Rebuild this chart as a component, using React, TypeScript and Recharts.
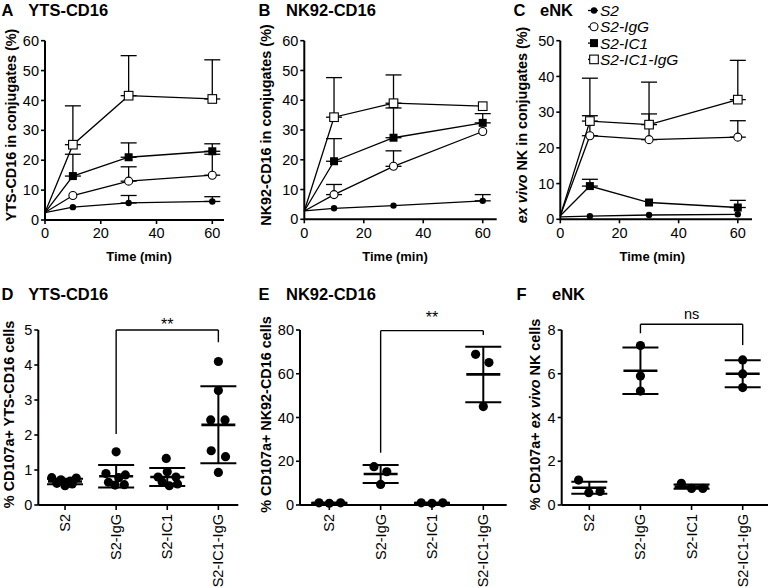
import React from 'react';
import {
  ComposedChart, ScatterChart, Line, Scatter, XAxis, YAxis, ErrorBar, Label, Legend,
  ReferenceLine, ReferenceDot,
} from 'recharts';

const FONT = '"Liberation Sans", Arial, Helvetica, sans-serif';

// ---------- shared ----------
const times = [0, 10, 30, 60];
const seriesNames = ['S2', 'S2-IgG', 'S2-IC1', 'S2-IC1-IgG'];
const markerKinds = ['fc', 'oc', 'fs', 'os'];
const categories = ['S2', 'S2-IgG', 'S2-IC1', 'S2-IC1-IgG'];

// ---------- Panel A: YTS-CD16 conjugates ----------
const aS2 = [2.5, 4.3, 5.7, 6.2];
const aIgG = [2.5, 8.2, 13, 15];
const aIC1 = [2.5, 14.7, 21, 23];
const aIC1IgG = [2.5, 25.2, 41.6, 40.5];
const aS2Err = [null, null, 2.5, 1.6];
const aIgGErr = [null, null, 4.8, 7];
const aIC1Err = [null, 7.3, 4.8, 2.5];
const aIC1IgGErr = [null, 13, 13.4, 13.1];

// ---------- Panel B: NK92-CD16 conjugates ----------
const bS2 = [2.8, 3.7, 4.6, 6.2];
const bIgG = [2.8, 8.3, 17.8, 29.5];
const bIC1 = [2.8, 19.5, 27.4, 32.4];
const bIC1IgG = [2.8, 34.3, 39, 38];
const bS2Err = [null, null, null, 2.1];
const bIgGErr = [null, 3.4, 5.2, null];
const bIC1Err = [null, 7.6, 10, 3.1];
const bIC1IgGErr = [null, 13.3, 9.5, null];

// ---------- Panel C: eNK conjugates ----------
const cS2 = [0.7, 0.9, 1.2, 1.4];
const cIgG = [1.0, 23.4, 22.3, 23];
const cIC1 = [1.0, 9.3, 4.7, 3.3];
const cIC1IgG = [1.0, 27.5, 26.5, 33.5];
const cS2Err = [null, null, null, null];
const cIgGErr = [null, 5.6, 7.2, 4.6];
const cIC1Err = [null, 1.9, null, 2.0];
const cIC1IgGErr = [null, 12, 11.9, 11];

// ---------- Panel D: CD107a+ YTS-CD16 ----------
const dVals = [
  [0.78, 0.77, 0.72, 0.68, 0.62, 0.55, 0.6],
  [1.52, 0.9, 0.86, 0.78, 0.65, 0.57, 0.58],
  [1.33, 0.95, 0.8, 0.8, 0.66, 0.55, 0.6],
  [4.1, 3.27, 2.43, 2.43, 1.55, 1.38, 0.93],
];
const dJitter = [
  [-0.26, 0.22, -0.08, 0.1, -0.16, 0.0, 0.14],
  [0, -0.2, 0.18, 0.05, -0.15, -0.02, 0.16],
  [-0.02, 0, -0.18, 0.17, -0.1, 0.04, 0.2],
  [0, 0, -0.15, 0.13, -0.14, 0.14, 0],
];
const dMean = [0.67, 0.82, 0.8, 2.29];
const dSd = [0.08, 0.32, 0.26, 1.1];

// ---------- Panel E: CD107a+ NK92-CD16 ----------
const eVals = [
  [1.0, 0.8, 1.0],
  [17.5, 15.2, 9.4],
  [1.0, 0.8, 1.0],
  [68.9, 65.1, 45.0],
];
const eJitter = [
  [-0.2, 0, 0.22],
  [-0.13, 0.12, 0],
  [-0.21, 0, 0.21],
  [-0.15, 0.11, 0],
];
const eMean = [0.9, 14.2, 0.9, 59.7];
const eSd = [0.1, 4.1, 0.1, 12.7];

// ---------- Panel F: CD107a+ ex vivo NK ----------
const fVals = [
  [1.14, 0.56, 0.62],
  [7.29, 5.9, 5.21],
  [0.99, 0.76, 0.76],
  [6.63, 5.99, 5.37],
];
const fJitter = [
  [-0.21, -0.01, 0.21],
  [0, 0, 0],
  [-0.2, 0, 0.22],
  [0, 0, 0],
];
const fMean = [0.79, 6.14, 0.84, 6.0];
const fSd = [0.27, 1.06, 0.1, 0.62];

// ---------- helpers ----------
type Num = number | null;

function buildTimeData(vals: number[][], errs: Num[][]) {
  return times.map((t, i) => {
    const row: any = { t };
    vals.forEach((v, s) => {
      row[`v${s}`] = v[i];
      const e = errs[s][i];
      row[`e${s}`] = e == null ? null : [0, e];
    });
    return row;
  });
}

function buildPoints(vals: number[][], jit: number[][]) {
  const out: any[] = [];
  vals.forEach((arr, c) => arr.forEach((v, i) => out.push({ x: c + 1 + jit[c][i], y: v })));
  return out;
}

function buildMeans(means: number[], sds: number[]) {
  return means.map((m, c) => ({ x: c + 1, y: m, sd: sds[c] }));
}

function Marker({ kind, cx, cy }: { kind: string; cx: number; cy: number }) {
  if (kind === 'fc') return <circle cx={cx} cy={cy} r={3.2} fill="#000" />;
  if (kind === 'oc') return <circle cx={cx} cy={cy} r={4} fill="#fff" stroke="#000" strokeWidth={1.1} />;
  if (kind === 'fs') return <rect x={cx - 4} y={cy - 4} width={8} height={8} fill="#000" />;
  return <rect x={cx - 4.3} y={cy - 4.3} width={8.6} height={8.6} fill="#fff" stroke="#000" strokeWidth={1.1} />;
}

const makeDot = (kind: string) => (props: any) => {
  const { cx, cy, payload, index } = props;
  if (!payload || payload.t === 0 || cx == null || cy == null) return <g key={`d${index}`} />;
  return <g key={`d${index}`}><Marker kind={kind} cx={cx} cy={cy} /></g>;
};

type Part = { text: string; italic?: boolean };

function yTitleContent(parts: Part[], x: number, cy: number) {
  return () => (
    <text
      x={x}
      y={cy}
      transform={`rotate(-90, ${x}, ${cy})`}
      textAnchor="middle"
      dominantBaseline="central"
      fontFamily={FONT}
      fontWeight="bold"
      fontSize={14.4}
      fill="#000"
    >
      {parts.map((p, i) => (
        <tspan key={i} fontStyle={p.italic ? 'italic' : 'normal'}>{p.text}</tspan>
      ))}
    </text>
  );
}

const axisLineStyle = { stroke: '#000', strokeWidth: 2 };
const tickLineStyle = { stroke: '#000', strokeWidth: 1.6 };
const tickTextStyle = { fill: '#000', fontSize: 14.5, fontFamily: FONT };

function LegendBox() {
  return (
    <svg width={180} height={70} style={{ display: 'block', overflow: 'visible' }}>
      {seriesNames.map((name, i) => {
        const cy = 10.5 + i * 16.3;
        return (
          <g key={name}>
            <line x1={0} x2={10} y1={cy} y2={cy} stroke="#000" strokeWidth={1.3} />
            <Marker kind={markerKinds[i]} cx={6} cy={cy} />
            <text
              x={12}
              y={cy}
              dominantBaseline="central"
              fontFamily={FONT}
              fontStyle="italic"
              fontSize={15.5}
              fill="#000"
            >
              {name}
            </text>
          </g>
        );
      })}
    </svg>
  );
}

function TimePanel(props: {
  left: number; data: any[]; xMax: number; yMax: number; yTicks: number[];
  ml: number; mr: number; mb: number; yTitle: Part[]; yTitleX: number; xTitleX: number; legend?: boolean;
}) {
  const { left, data, xMax, yMax, yTicks, ml, mr, mb, yTitle, yTitleX, xTitleX, legend } = props;
  return (
    <div style={{ position: 'absolute', left, top: 0 }}>
      <ComposedChart width={256} height={290} data={data} margin={{ top: 40.7, right: mr, bottom: mb, left: ml }}>
        <XAxis
          dataKey="t"
          type="number"
          domain={[0, xMax]}
          ticks={[0, 20, 40, 60]}
          interval={0}
          height={30}
          axisLine={axisLineStyle}
          tickLine={tickLineStyle}
          tickSize={4}
          tickMargin={4}
          tick={tickTextStyle}
        >
          <Label
            content={() => (
              <text x={xTitleX} y={260.5} textAnchor="middle" fontFamily={FONT} fontWeight="bold" fontSize={13} fill="#000">
                Time (min)
              </text>
            )}
          />
        </XAxis>
        <YAxis
          type="number"
          domain={[0, yMax]}
          ticks={yTicks}
          interval={0}
          width={40}
          axisLine={axisLineStyle}
          tickLine={tickLineStyle}
          tickSize={4}
          tickMargin={2}
          tick={tickTextStyle}
        >
          <Label content={yTitleContent(yTitle, yTitleX, 125)} />
        </YAxis>
        {[0, 1, 2, 3].map((i) => (
          <Line
            key={i}
            dataKey={`v${i}`}
            type="linear"
            stroke="#000"
            strokeWidth={1.3}
            dot={makeDot(markerKinds[i])}
            activeDot={false}
            isAnimationActive={false}
          >
            <ErrorBar dataKey={`e${i}`} width={8} stroke="#000" strokeWidth={1.3} direction="y" isAnimationActive={false} />
          </Line>
        ))}
        {legend && (
          <Legend
            layout="vertical"
            align="center"
            verticalAlign="middle"
            content={() => <LegendBox />}
            wrapperStyle={{ left: 76, top: 0, width: 180, height: 70 }}
          />
        )}
      </ComposedChart>
    </div>
  );
}

const CatTick = (props: any) => {
  const { x, y, payload } = props;
  const label = categories[Math.round(payload.value) - 1];
  return (
    <text
      x={x}
      y={y}
      transform={`rotate(-90, ${x}, ${y})`}
      textAnchor="end"
      dominantBaseline="central"
      fontFamily={FONT}
      fontSize={14.5}
      fill="#000"
    >
      {label}
    </text>
  );
};

const pointShape = (p: any) => <circle cx={p.cx} cy={p.cy} r={4.6} fill="#000" />;
const meanShape = (p: any) => (
  <line x1={p.cx - 17} x2={p.cx + 17} y1={p.cy} y2={p.cy} stroke="#000" strokeWidth={2.6} />
);

function CatPanel(props: {
  left: number; ml: number; yWidth: number; mr: number; xDomain: [number, number];
  yMax: number; yTicks: number[]; points: any[]; means: any[];
  yTitle: Part[]; yTitleX: number;
  br: { left: number; right: number; top: number; textY: number; text: string; fs: number };
}) {
  const { left, ml, yWidth, mr, xDomain, yMax, yTicks, points, means, yTitle, yTitleX, br } = props;
  const segStyle = { stroke: '#000', strokeWidth: 1.4 };
  return (
    <div style={{ position: 'absolute', left, top: 290 }}>
      <ScatterChart width={256} height={297} margin={{ top: 40, right: mr, bottom: 22, left: ml }}>
        <XAxis
          dataKey="x"
          type="number"
          domain={xDomain}
          ticks={[1, 2, 3, 4]}
          interval={0}
          height={60}
          axisLine={axisLineStyle}
          tickLine={tickLineStyle}
          tickSize={5}
          tickMargin={4}
          tick={(p: any) => <CatTick {...p} />}
        />
        <YAxis
          dataKey="y"
          type="number"
          domain={[0, yMax]}
          ticks={yTicks}
          interval={0}
          width={yWidth}
          axisLine={axisLineStyle}
          tickLine={tickLineStyle}
          tickSize={4}
          tickMargin={2}
          tick={tickTextStyle}
        >
          <Label content={yTitleContent(yTitle, yTitleX, 124.5)} />
        </YAxis>
        <Scatter data={points} shape={pointShape} isAnimationActive={false} />
        <Scatter data={means} shape={meanShape} isAnimationActive={false}>
          <ErrorBar dataKey="sd" width={18} stroke="#000" strokeWidth={2} direction="y" isAnimationActive={false} />
        </Scatter>
        <ReferenceLine segment={[{ x: 2, y: br.left }, { x: 2, y: br.top }]} ifOverflow="visible" {...segStyle} />
        <ReferenceLine segment={[{ x: 2, y: br.top }, { x: 4, y: br.top }]} ifOverflow="visible" {...segStyle} />
        <ReferenceLine segment={[{ x: 4, y: br.right }, { x: 4, y: br.top }]} ifOverflow="visible" {...segStyle} />
        <ReferenceDot
          x={3}
          y={br.textY}
          ifOverflow="visible"
          shape={(p: any) => (
            <text x={p.cx} y={p.cy} textAnchor="middle" fontFamily={FONT} fontSize={br.fs} fill="#000">
              {br.text}
            </text>
          )}
        />
      </ScatterChart>
    </div>
  );
}

const dataA = buildTimeData([aS2, aIgG, aIC1, aIC1IgG], [aS2Err, aIgGErr, aIC1Err, aIC1IgGErr]);
const dataB = buildTimeData([bS2, bIgG, bIC1, bIC1IgG], [bS2Err, bIgGErr, bIC1Err, bIC1IgGErr]);
const dataC = buildTimeData([cS2, cIgG, cIC1, cIC1IgG], [cS2Err, cIgGErr, cIC1Err, cIC1IgGErr]);

const titles = [
  { letter: 'A', name: 'YTS-CD16', lx: 1.5, nx: 28.3, y: 15.5 },
  { letter: 'B', name: 'NK92-CD16', lx: 258.5, nx: 286, y: 15.5 },
  { letter: 'C', name: 'eNK', lx: 513.5, nx: 540, y: 15.5 },
  { letter: 'D', name: 'YTS-CD16', lx: 1.5, nx: 28.3, y: 300 },
  { letter: 'E', name: 'NK92-CD16', lx: 258.5, nx: 286, y: 300 },
  { letter: 'F', name: 'eNK', lx: 516.5, nx: 552, y: 300 },
];

export default function App() {
  return (
    <div style={{ position: 'absolute', left: 0, top: 0, width: 768, height: 587, background: '#fff', overflow: 'hidden' }}>
      <TimePanel
        left={0} data={dataA} xMax={64.2} yMax={60} yTicks={[0, 10, 20, 30, 40, 50, 60]}
        ml={5} mr={32} mb={40} yTitle={[{ text: 'YTS-CD16 in conjugates (%)' }]} yTitleX={11} xTitleX={139}
      />
      <TimePanel
        left={256} data={dataB} xMax={64.7} yMax={60} yTicks={[0, 10, 20, 30, 40, 50, 60]}
        ml={8.3} mr={15.3} mb={40.7} yTitle={[{ text: 'NK92-CD16 in conjugates (%)' }]} yTitleX={9.5} xTitleX={139}
      />
      <TimePanel
        left={512} data={dataC} xMax={64.8} yMax={50} yTicks={[0, 10, 20, 30, 40, 50]}
        ml={8.3} mr={16} mb={40.7}
        yTitle={[{ text: 'ex vivo', italic: true }, { text: ' NK in conjugates (%)' }]} yTitleX={9.5} xTitleX={140.3}
        legend
      />
      <CatPanel
        left={0} ml={4.3} yWidth={34} mr={17.7} xDomain={[0.477, 4.39]} yMax={5} yTicks={[0, 1, 2, 3, 4, 5]}
        points={buildPoints(dVals, dJitter)} means={buildMeans(dMean, dSd)}
        yTitle={[{ text: '% CD107a+ YTS-CD16 cells' }]} yTitleX={9}
        br={{ left: 2.03, right: 4.65, top: 5, textY: 5.0, text: '**', fs: 16 }}
      />
      <CatPanel
        left={256} ml={4} yWidth={40} mr={5.3} xDomain={[0.429, 4.456]} yMax={80} yTicks={[0, 20, 40, 60, 80]}
        points={buildPoints(eVals, eJitter)} means={buildMeans(eMean, eSd)}
        yTitle={[{ text: '% CD107a+ NK92-CD16 cells' }]} yTitleX={10}
        br={{ left: 23.9, right: 77.7, top: 79.7, textY: 83.4, text: '**', fs: 16 }}
      />
      <CatPanel
        left={512} ml={9.7} yWidth={40} mr={0} xDomain={[0.46, 4.495]} yMax={8} yTicks={[0, 2, 4, 6, 8]}
        points={buildPoints(fVals, fJitter)} means={buildMeans(fMean, fSd)}
        yTitle={[{ text: '% CD107a+ ' }, { text: 'ex vivo', italic: true }, { text: ' NK cells' }]} yTitleX={23}
        br={{ left: 7.85, right: 7.31, top: 8.26, textY: 8.51, text: 'ns', fs: 14.5 }}
      />
      <svg width={768} height={587} style={{ position: 'absolute', left: 0, top: 0, pointerEvents: 'none' }}>
        {titles.map((t) => (
          <g key={t.letter}>
            <text x={t.lx} y={t.y} fontFamily={FONT} fontWeight="bold" fontSize={16.5} fill="#000">{t.letter}</text>
            <text x={t.nx} y={t.y} fontFamily={FONT} fontWeight="bold" fontSize={16.5} fill="#000">{t.name}</text>
          </g>
        ))}
      </svg>
    </div>
  );
}
